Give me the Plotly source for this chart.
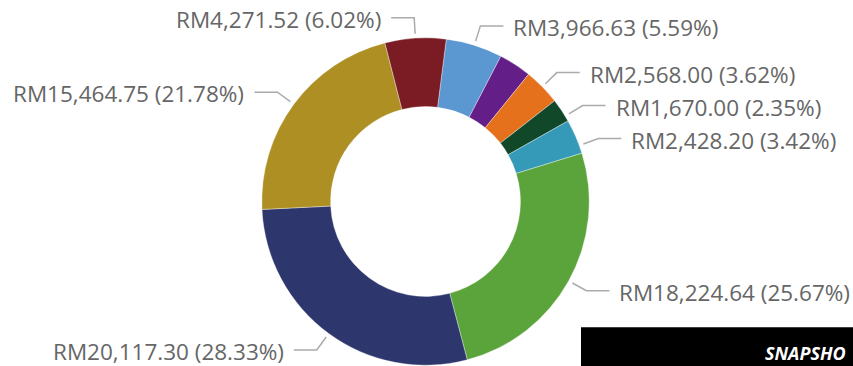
import math
import plotly.graph_objects as go

# ---- data -------------------------------------------------------------
categories = ["Item A", "Item B", "Item C", "Item D", "Item E",
              "Item F", "Item G", "Item H", "Item I"]
values = [3966.63, 2290.00, 2568.00, 1670.00, 2428.20,
          18224.64, 20117.30, 15464.75, 4271.52]
colors = ["#5B97D1", "#641E87", "#E5711D", "#12482A", "#3599B8",
          "#5BA33B", "#2D376D", "#AE8F23", "#7B1C25"]
show_label = [True, False, True, True, True, True, True, True, True]
badge_text = "SNAPSHO"

# ---- geometry ---------------------------------------------------------
W, H = 853, 366
CX, CY, R = 425.5, 201.5, 163.7     # donut centre / outer radius (px)
HOLE = 0.58
ROTATION = 7.3                      # first slice starts this far past 12 o'clock
R_START, R_ELBOW = 168.0, 184.0     # leader line radii
H_SEG, TEXT_GAP = 23.0, 8.0         # horizontal leader + gap to text
MIN_SPACING = 33.0                  # vertical spacing between stacked labels
LABEL_FONT = dict(family="Open Sans, Noto Sans, sans-serif", size=22.5, color="#666666")
LINE_COLOR = "#ABABAB"


def px(x):
    return x / W


def py(y):
    return 1 - y / H


total = sum(values)

fig = go.Figure(go.Pie(
    labels=categories,
    values=values,
    hole=HOLE,
    sort=False,
    direction="clockwise",
    rotation=ROTATION,
    marker=dict(colors=colors, line=dict(color="rgba(255,255,255,0.6)", width=0.6)),
    textinfo="none",
    showlegend=False,
    domain=dict(x=[px(CX - R), px(CX + R)], y=[py(CY + R), py(CY - R)]),
))

# ---- outside labels with leader lines ---------------------------------
entries = []
cum = 0.0
for v, show in zip(values, show_label):
    mid = math.radians(ROTATION + (cum + v / 2) / total * 360)
    cum += v
    if not show:
        continue
    side = 1 if math.sin(mid) >= 0 else -1
    y_elbow = CY - R_ELBOW * math.cos(mid)
    entries.append(dict(v=v, side=side, y=y_elbow))

# push labels apart vertically on each side
for side in (1, -1):
    group = sorted([e for e in entries if e["side"] == side], key=lambda e: e["y"])
    for prev, cur in zip(group, group[1:]):
        cur["y"] = max(cur["y"], prev["y"] + MIN_SPACING)

shapes = []
annotations = []
for e in entries:
    c = max(-1.0, min(1.0, (CY - e["y"]) / R_ELBOW))
    theta = math.acos(c) * e["side"]
    sx, sy = CX + R_START * math.sin(theta), CY - R_START * math.cos(theta)
    ex, ey = CX + R_ELBOW * math.sin(theta), CY - R_ELBOW * math.cos(theta)
    hx = ex + e["side"] * H_SEG
    shapes.append(dict(
        type="path", xref="paper", yref="paper",
        path=f"M {px(sx)},{py(sy)} L {px(ex)},{py(ey)} L {px(hx)},{py(ey)}",
        line=dict(color=LINE_COLOR, width=1.5),
    ))
    text = f"RM{e['v']:,.2f} ({e['v'] / total * 100:.2f}%)"
    annotations.append(dict(
        x=px(hx + e["side"] * TEXT_GAP), y=py(ey + 1.5),
        xref="paper", yref="paper", showarrow=False,
        xanchor="left" if e["side"] > 0 else "right", yanchor="middle",
        text=text, font=LABEL_FONT,
    ))

# ---- black badge in the lower-right corner ----------------------------
shapes.append(dict(type="rect", xref="paper", yref="paper",
                   x0=px(581), x1=1.0, y0=0.0, y1=py(327.3),
                   fillcolor="black", line=dict(width=0), layer="above"))
annotations.append(dict(
    x=px(848), y=py(353), xref="paper", yref="paper", showarrow=False,
    xanchor="right", yanchor="middle", text=f"<b><i>{badge_text}</i></b>",
    font=dict(family="Open Sans, sans-serif", size=18, color="white"),
))

fig.update_layout(
    width=W, height=H, autosize=False,
    margin=dict(l=0, r=0, t=0, b=0),
    paper_bgcolor="white", plot_bgcolor="white",
    shapes=shapes, annotations=annotations,
)

fig.write_html("out.html")
